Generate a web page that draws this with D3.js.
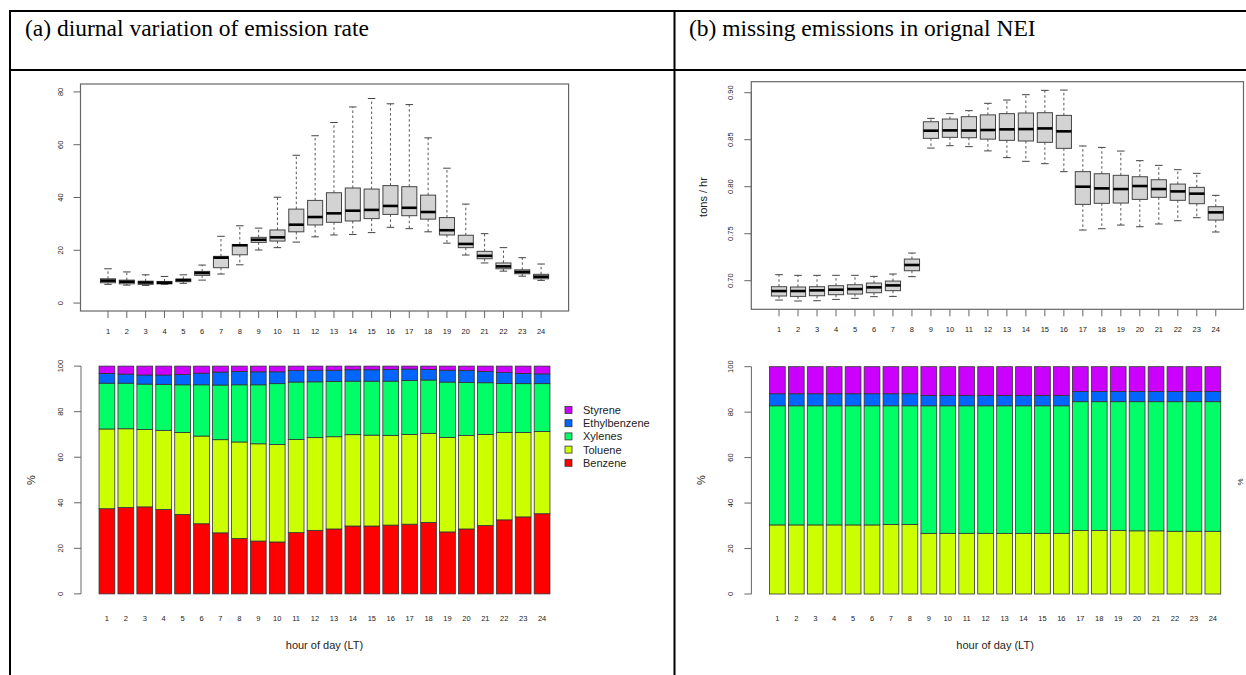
<!DOCTYPE html>
<html>
<head>
<meta charset="utf-8">
<script src="https://cdn.jsdelivr.net/npm/d3@7"></script>
<style>
body { margin:0; background:#fff; }
svg text { font-family: "Liberation Sans", Arial, sans-serif; fill:#222; }
</style>
</head>
<body>
<div id="chart-area"></div>
<script>
const hours = [1,2,3,4,5,6,7,8,9,10,11,12,13,14,15,16,17,18,19,20,21,22,23,24];

// (a) box plot summaries of emission rate
const aHigh = [13.0,11.8,10.7,10.1,10.7,14.4,25.3,29.3,28.4,40.1,56.0,63.4,68.4,74.3,77.5,75.5,75.2,62.6,51.1,37.5,26.3,21.0,17.2,14.8];
const aQ3   = [9.2,8.7,8.3,8.2,9.1,12.0,17.7,22.2,24.9,27.7,35.6,38.9,41.8,43.6,43.2,44.5,44.1,40.9,32.4,25.7,19.6,15.2,12.6,10.9];
const aMed  = [8.5,8.1,7.8,7.7,8.7,11.4,17.2,21.9,24.0,24.9,29.7,32.6,34.0,35.0,35.3,36.8,36.1,34.5,27.6,22.4,17.9,13.9,11.8,10.0];
const aQ1   = [7.7,7.3,7.1,7.3,8.1,10.5,13.4,18.3,23.0,23.5,27.0,29.6,30.6,31.1,32.0,33.6,33.1,31.8,25.8,21.0,16.8,13.0,11.1,9.2];
const aLow  = [7.1,6.8,6.7,7.1,7.5,8.7,11.0,14.5,20.1,21.0,23.1,25.1,25.8,26.0,26.7,28.7,28.2,27.0,22.7,18.2,15.2,12.1,10.2,8.6];
const aTicks = [0,20,40,60,80];

// (b) box plot summaries of missing emissions (tons / hr)
const bHigh = [0.7064,0.7057,0.7057,0.7057,0.7057,0.7046,0.7071,0.7294,0.8727,0.8777,0.8809,0.8887,0.8922,0.8979,0.9025,0.9028,0.8433,0.8418,0.8379,0.8277,0.8227,0.8181,0.8142,0.7908];
const bQ3   = [0.6936,0.6933,0.6936,0.6947,0.6957,0.6975,0.6996,0.7230,0.8691,0.8720,0.8745,0.8764,0.8777,0.8784,0.8787,0.8759,0.8160,0.8138,0.8121,0.8106,0.8074,0.8028,0.7993,0.7787];
const bMed  = [0.6890,0.6890,0.6897,0.6904,0.6911,0.6929,0.6950,0.7167,0.8596,0.8599,0.8598,0.8603,0.8610,0.8613,0.8620,0.8589,0.8000,0.7982,0.7975,0.8007,0.7975,0.7950,0.7926,0.7727];
const bQ1   = [0.6837,0.6833,0.6840,0.6851,0.6858,0.6872,0.6894,0.7106,0.8514,0.8525,0.8521,0.8506,0.8493,0.8486,0.8472,0.8408,0.7812,0.7823,0.7826,0.7865,0.7887,0.7855,0.7819,0.7645];
const bLow  = [0.6794,0.6784,0.6787,0.6801,0.6812,0.6830,0.6833,0.7043,0.8411,0.8436,0.8426,0.8381,0.8309,0.8270,0.8245,0.8160,0.7539,0.7553,0.7592,0.7574,0.7603,0.7638,0.7670,0.7518];
const bTicks = [0.70,0.75,0.80,0.85,0.90];

// species shares (%)
const species = ["Benzene","Toluene","Xylenes","Ethylbenzene","Styrene"];
const speciesColors = ["#FF0000","#CCFF00","#00FF66","#0066FF","#CC00FF"];
const pctTicks = [0,20,40,60,80,100];

const aBenzene = [37.4,37.9,38.2,37.1,34.9,30.8,26.8,24.3,23.2,22.8,26.9,27.9,28.5,29.8,29.8,30.2,30.6,31.4,27.2,28.5,30.0,32.5,33.8,35.2];
const aToluene = [35.0,34.6,34.0,34.7,36.0,38.5,40.9,42.4,42.7,42.8,40.9,40.7,40.5,40.1,39.9,39.4,39.4,39.1,41.5,41.1,40.0,38.4,37.1,36.1];
const aXylenes = [20.1,20.0,19.9,20.2,20.9,22.5,24.0,25.1,25.9,26.7,25.2,24.5,24.3,23.5,23.7,23.8,23.7,23.4,24.3,23.2,22.7,21.5,21.4,21.0];
const aEthyl   = [4.3,4.0,4.0,4.1,4.5,5.1,5.7,5.9,5.7,5.2,5.1,5.1,4.9,5.0,5.0,5.1,5.0,4.6,5.2,5.3,5.0,4.8,4.5,4.3];
const aStyrene = [3.2,3.5,3.9,3.9,3.7,3.1,2.6,2.3,2.5,2.5,1.9,1.8,1.8,1.6,1.6,1.5,1.3,1.5,1.8,1.9,2.3,2.8,3.2,3.4];

const bBenzene = [0,0,0,0,0,0,0,0,0,0,0,0,0,0,0,0,0,0,0,0,0,0,0,0];
const bToluene = [30.4,30.4,30.4,30.4,30.4,30.4,30.6,30.6,26.7,26.7,26.7,26.7,26.7,26.7,26.7,26.7,27.9,27.9,27.9,27.8,27.8,27.6,27.6,27.6];
const bXylenes = [52.4,52.4,52.4,52.4,52.4,52.4,52.2,52.2,56.1,56.1,56.1,56.1,56.1,56.1,56.1,56.1,56.7,56.7,56.7,56.8,56.8,57.0,57.0,57.0];
const bEthyl   = [5.3,5.3,5.3,5.3,5.3,5.3,5.3,5.3,4.6,4.6,4.6,4.6,4.6,4.6,4.6,4.6,4.5,4.5,4.5,4.5,4.5,4.5,4.5,4.5];
const bStyrene = [11.9,11.9,11.9,11.9,11.9,11.9,11.9,11.9,12.6,12.6,12.6,12.6,12.6,12.6,12.6,12.6,10.9,10.9,10.9,10.9,10.9,10.9,10.9,10.9];

let width = 1246, height = 675;
let svg = d3.select("#chart-area")
            .append("svg")
            .attr("width", width)
            .attr("height", height);

//table frame and headers
let frame = svg.append("g");
[[9, 11, 1246, 11], [9, 70, 1246, 70], [10, 10, 10, 675], [674.5, 10, 674.5, 675]].forEach(l => {
    frame.append("line")
        .attr("x1", l[0]).attr("y1", l[1]).attr("x2", l[2]).attr("y2", l[3])
        .attr("stroke", "#000").attr("stroke-width", 2);
});
frame.append("text")
    .attr("x", 25).attr("y", 36)
    .style("font-family", "'Liberation Serif', 'Times New Roman', serif")
    .attr("font-size", "23.5px").style("fill", "#000")
    .text("(a) diurnal variation of emission rate");
frame.append("text")
    .attr("x", 689).attr("y", 36)
    .style("font-family", "'Liberation Serif', 'Times New Roman', serif")
    .attr("font-size", "23.5px").style("fill", "#000")
    .text("(b) missing emissions in orignal NEI");

function yLabels(g, y, ticks, x, fmt) {
    ticks.forEach(t => {
        g.append("text")
            .attr("transform", "translate(" + x + "," + y(t) + ") rotate(-90)")
            .attr("text-anchor", "middle")
            .attr("font-size", "7.5px")
            .text(fmt(t));
    });
}

function drawBoxplot(box, low, q1, med, q3, high, ticks, fmt) {
    let g = svg.append("g");
    let x = d3.scaleLinear().domain([-0.46, 25.46]).range([box.left, box.right]);
    let y = d3.scaleLinear().domain(box.yDomain).range([box.bottom, box.top]);
    let half = 0.4, staple = 0.2;

    hours.forEach((h, i) => {
        // whiskers
        g.append("line")
            .attr("x1", x(h)).attr("x2", x(h)).attr("y1", y(q3[i])).attr("y2", y(high[i]))
            .attr("stroke", "#555").attr("stroke-dasharray", "2.5,2.5");
        g.append("line")
            .attr("x1", x(h)).attr("x2", x(h)).attr("y1", y(q1[i])).attr("y2", y(low[i]))
            .attr("stroke", "#555").attr("stroke-dasharray", "2.5,2.5");
        [high[i], low[i]].forEach(v => {
            g.append("line")
                .attr("x1", x(h - staple)).attr("x2", x(h + staple))
                .attr("y1", y(v)).attr("y2", y(v))
                .attr("stroke", "#444");
        });
        g.append("rect")
            .attr("x", x(h - half)).attr("y", y(q3[i]))
            .attr("width", x(h + half) - x(h - half))
            .attr("height", y(q1[i]) - y(q3[i]))
            .attr("fill", "#D3D3D3").attr("stroke", "#444").attr("stroke-width", 1);
        g.append("line")
            .attr("x1", x(h - half)).attr("x2", x(h + half))
            .attr("y1", y(med[i])).attr("y2", y(med[i]))
            .attr("stroke", "#000").attr("stroke-width", 2.6);
    });

    //plot frame
    g.append("rect")
        .attr("x", box.left).attr("y", box.top)
        .attr("width", box.right - box.left).attr("height", box.bottom - box.top)
        .attr("fill", "none").attr("stroke", "#666").attr("stroke-width", 1.2);

    //y axis
    g.append("line").attr("x1", box.left).attr("x2", box.left)
        .attr("y1", y(ticks[0])).attr("y2", y(ticks[ticks.length - 1])).attr("stroke", "#666");
    ticks.forEach(t => {
        g.append("line").attr("x1", box.left - 7).attr("x2", box.left)
            .attr("y1", y(t)).attr("y2", y(t)).attr("stroke", "#666");
    });
    yLabels(g, y, ticks, box.left - 18, fmt);

    //x axis
    hours.forEach(h => {
        g.append("line").attr("x1", x(h)).attr("x2", x(h))
            .attr("y1", box.bottom).attr("y2", box.bottom + 7).attr("stroke", "#666");
        g.append("text")
            .attr("x", x(h)).attr("y", box.bottom + 23)
            .attr("text-anchor", "middle").attr("font-size", "7.5px")
            .text(h);
    });
    return g;
}

function drawStacked(box, series) {
    let g = svg.append("g");
    let x = d3.scaleLinear().domain([-0.944, 29.944]).range([box.left, box.right]);
    let y = d3.scaleLinear().domain([-4, 104]).range([box.bottom, box.top]);

    let table = hours.map((h, i) => {
        let row = {hour: h};
        species.forEach((s, k) => { row[s] = series[k][i]; });
        return row;
    });
    let stacked = d3.stack().keys(species)(table);

    stacked.forEach((layer, k) => {
        g.selectAll(null)
            .data(layer)
            .enter()
            .append("rect")
            .attr("x", (d, i) => x(0.2 + i * 1.2))
            .attr("width", x(1) - x(0))
            .attr("y", d => y(d[1]))
            .attr("height", d => y(d[0]) - y(d[1]))
            .attr("fill", speciesColors[k])
            .attr("stroke", "#333")
            .attr("stroke-width", 0.8);
    });

    //y axis
    g.append("line").attr("x1", box.left).attr("x2", box.left)
        .attr("y1", y(0)).attr("y2", y(100)).attr("stroke", "#666");
    pctTicks.forEach(t => {
        g.append("line").attr("x1", box.left - 7).attr("x2", box.left)
            .attr("y1", y(t)).attr("y2", y(t)).attr("stroke", "#666");
    });
    yLabels(g, y, pctTicks, box.left - 18, d => d);

    //hour labels
    hours.forEach((h, i) => {
        g.append("text")
            .attr("x", x(0.7 + i * 1.2)).attr("y", box.bottom + 18)
            .attr("text-anchor", "middle").attr("font-size", "7.5px")
            .text(h);
    });

    g.append("text")
        .attr("x", (box.left + box.right) / 2).attr("y", 649)
        .attr("text-anchor", "middle").attr("font-size", "11px")
        .text("hour of day (LT)");
    g.append("text")
        .attr("transform", "translate(" + (box.left - 46) + ",480) rotate(-90)")
        .attr("text-anchor", "middle").attr("font-size", "11px")
        .text("%");
    return g;
}

drawBoxplot({left: 80.5, right: 568.6, top: 84, bottom: 311, yDomain: [-3, 83]},
    aLow, aQ1, aMed, aQ3, aHigh, aTicks, d => d);
let gb = drawBoxplot({left: 751.3, right: 1243.5, top: 81.7, bottom: 309.3, yDomain: [0.66957, 0.9117]},
    bLow, bQ1, bMed, bQ3, bHigh, bTicks, d3.format(".2f"));
gb.append("text")
    .attr("transform", "translate(707,197) rotate(-90)")
    .attr("text-anchor", "middle").attr("font-size", "11px")
    .text("tons / hr");

drawStacked({left: 81, right: 568, top: 357, bottom: 603},
    [aBenzene, aToluene, aXylenes, aEthyl, aStyrene]);
drawStacked({left: 751.4, right: 1238.8, top: 357.6, bottom: 603.1},
    [bBenzene, bToluene, bXylenes, bEthyl, bStyrene]);

//legend for (a)
let legend = svg.append("g");
species.slice().reverse().forEach((s, i) => {
    let c = speciesColors[species.length - 1 - i];
    legend.append("rect")
        .attr("x", 565).attr("y", 406.5 + i * 13.2)
        .attr("width", 7).attr("height", 7)
        .attr("fill", c).attr("stroke", "#333").attr("stroke-width", 0.8);
    legend.append("text")
        .attr("x", 583).attr("y", 414 + i * 13.2)
        .attr("font-size", "11px")
        .text(s);
});

//small "%" label at the right edge
svg.append("text")
    .attr("transform", "translate(1243,482) rotate(-90)")
    .attr("text-anchor", "middle").attr("font-size", "8px")
    .text("%");
</script>
</body>
</html>
